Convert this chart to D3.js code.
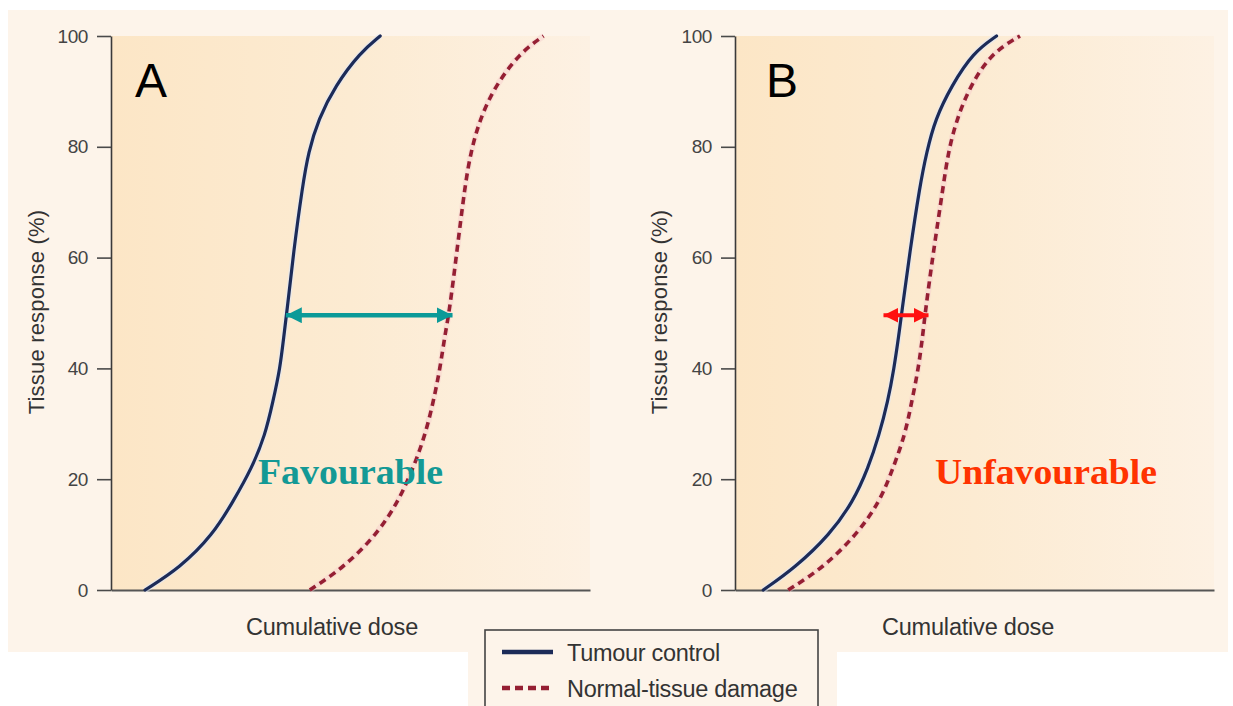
<!DOCTYPE html>
<html>
<head>
<meta charset="utf-8">
<script src="https://cdn.jsdelivr.net/npm/d3@7"></script>
<style>
  html, body { margin: 0; padding: 0; background: #ffffff; }
  svg { display: block; font-family: "Liberation Sans", Arial, Helvetica, sans-serif; }
</style>
</head>
<body>
<svg id="chart" width="1233" height="706"></svg>
<script>
// ---------------- DATA ----------------
// Tissue response levels (%) at which the curves were read
const responseLevels = [0, 4, 10, 16, 22, 28, 34, 40, 46, 50, 61, 73, 79, 85, 91, 97, 100];
// Cumulative dose (arbitrary 0-100 scale) reached at each response level
const tumourA = [7.1, 14.4, 21.3, 25.5, 29.4, 32.2, 33.8, 35.3, 36.1, 36.7, 38.1, 40.0, 41.2, 43.3, 46.8, 52.0, 56.2];
const normalA = [41.5, 48.5, 55.5, 60.0, 63.1, 65.6, 67.3, 68.7, 69.7, 70.6, 72.2, 73.9, 75.1, 77.0, 80.2, 85.4, 90.3];
const tumourB = [5.9, 12.5, 19.8, 24.7, 27.8, 30.1, 31.9, 33.2, 34.2, 34.8, 36.5, 38.6, 40.0, 41.8, 45.2, 49.7, 54.6];
const normalB = [11.1, 18.4, 25.4, 30.3, 33.0, 35.5, 36.9, 38.3, 39.2, 39.7, 41.4, 43.5, 44.5, 46.3, 49.1, 53.6, 59.5];
const yTicks = [0, 20, 40, 60, 80, 100];
const panelLetters = ["A", "B"];
const panelVerdicts = ["Favourable", "Unfavourable"];
// Therapeutic window arrows: [start dose, end dose] at the arrow response level
const arrowA = [36.5, 71.3];
const arrowB = [31.0, 40.4];
const arrowLevel = 49.6;
const seriesNames = ["Tumour control", "Normal-tissue damage"];
const yTitle = "Tissue response (%)";
const xTitle = "Cumulative dose";

// ---------------- LAYOUT ----------------
const svg = d3.select("#chart");
const C = {
  bg: "#fdf4ea",
  navy: "#1c2b58",
  maroon: "#951f33",
  teal: "#0b9a98",
  tealText: "#139995",
  red: "#ff1010",
  redText: "#ff3300",
  axis: "#3a3a3a",
  tick: "#4a4a4a"
};
const SANS = "'Liberation Sans', Arial, Helvetica, sans-serif";
const SERIF = "'Liberation Serif', 'Times New Roman', Times, serif";

const defs = svg.append("defs");
const grad = defs.append("linearGradient").attr("id", "plotGrad")
  .attr("x1", "0%").attr("x2", "100%").attr("y1", "0%").attr("y2", "0%");
grad.append("stop").attr("offset", "0%").attr("stop-color", "#fce6c6");
grad.append("stop").attr("offset", "50%").attr("stop-color", "#fcebd2");
grad.append("stop").attr("offset", "100%").attr("stop-color", "#fdf1e3");

function arrowMarker(id, color, len, wid) {
  const m = defs.append("marker").attr("id", id)
    .attr("viewBox", `0 0 ${len} ${wid}`)
    .attr("refX", len).attr("refY", wid / 2)
    .attr("markerWidth", len).attr("markerHeight", wid)
    .attr("markerUnits", "userSpaceOnUse")
    .attr("orient", "auto-start-reverse");
  m.append("path").attr("d", `M0,0 L${len},${wid / 2} L0,${wid} Z`).attr("fill", color);
}
arrowMarker("arrowTeal", C.teal, 16, 16);
arrowMarker("arrowRed", C.red, 15, 15);

// Backgrounds
svg.append("rect").attr("x", 8).attr("y", 10).attr("width", 1220).attr("height", 642).attr("fill", C.bg);
svg.append("rect").attr("x", 468).attr("y", 651).attr("width", 369).attr("height", 60).attr("fill", C.bg);

const y = d3.scaleLinear().domain([0, 100]).range([590, 36]);

const panels = [
  { letter: panelLetters[0], x0: 111, x1: 590, tumour: tumourA, normal: normalA, arrow: arrowA,
    arrowColor: C.teal, marker: "arrowTeal", arrowW: 4.5,
    verdict: panelVerdicts[0], verdictColor: C.tealText, verdictX: 258, verdictLen: 185,
    letterX: 135, yTitleX: 44, xTitleX: 332 },
  { letter: panelLetters[1], x0: 735, x1: 1214, tumour: tumourB, normal: normalB, arrow: arrowB,
    arrowColor: C.red, marker: "arrowRed", arrowW: 4,
    verdict: panelVerdicts[1], verdictColor: C.redText, verdictX: 935, verdictLen: 222,
    letterX: 766, yTitleX: 667, xTitleX: 968 }
];

panels.forEach(p => {
  const x = d3.scaleLinear().domain([0, 100]).range([p.x0, p.x1]);
  const g = svg.append("g");

  // plot area
  g.append("rect").attr("x", p.x0).attr("y", y(100)).attr("width", p.x1 - p.x0)
    .attr("height", y(0) - y(100)).attr("fill", "url(#plotGrad)");

  // x axis (no ticks)
  const xa = g.append("g").attr("transform", `translate(0,${y(0)})`)
    .call(d3.axisBottom(x).tickValues([]).tickSizeOuter(0));
  xa.select(".domain").attr("stroke", "#555").attr("stroke-width", 2);

  // y axis
  const ya = g.append("g").attr("transform", `translate(${p.x0},0)`)
    .call(d3.axisLeft(y).tickValues(yTicks).tickSize(14).tickPadding(9).tickSizeOuter(0));
  ya.attr("font-family", null).attr("font-size", null);
  ya.select(".domain").attr("stroke", C.axis).attr("stroke-width", 1.6);
  ya.selectAll(".tick line").attr("stroke", C.tick).attr("stroke-width", 1.6);
  ya.selectAll(".tick text").attr("fill", "#444")
    .style("font-size", "19px").style("font-family", SANS).style("letter-spacing", "-0.4px");

  // axis titles
  g.append("text").attr("transform", `translate(${p.yTitleX},${y(50) - 1}) rotate(-90)`)
    .attr("text-anchor", "middle").style("font-size", "22px").style("font-family", SANS)
    .attr("fill", "#333").style("letter-spacing", "0.2px").text(yTitle);
  g.append("text").attr("x", p.xTitleX).attr("y", 635)
    .attr("text-anchor", "middle").style("font-size", "23.5px").style("font-family", SANS)
    .attr("fill", "#333").style("letter-spacing", "-0.2px").text(xTitle);

  // panel letter
  g.append("text").attr("x", p.letterX).attr("y", 97).style("font-size", "48px")
    .style("font-family", SANS).attr("fill", "#000").text(p.letter);

  const line = d3.line().x(d => x(d[0])).y(d => y(d[1])).curve(d3.curveBasis);

  // normal tissue (dashed)
  const nData = p.normal.map((d, i) => [d, responseLevels[i]]);
  g.append("path").datum(nData).attr("d", line).attr("fill", "none")
    .attr("stroke", "#f6cfcf").attr("stroke-width", 6).attr("stroke-opacity", 0.45);
  g.append("path").datum(nData).attr("d", line).attr("fill", "none")
    .attr("stroke", C.maroon).attr("stroke-width", 3.6).attr("stroke-dasharray", "7,5");

  // tumour control (solid)
  const tData = p.tumour.map((d, i) => [d, responseLevels[i]]);
  g.append("path").datum(tData).attr("d", line).attr("fill", "none")
    .attr("stroke", "#dfe8f7").attr("stroke-width", 6).attr("stroke-opacity", 0.6);
  g.append("path").datum(tData).attr("d", line).attr("fill", "none")
    .attr("stroke", C.navy).attr("stroke-width", 3.2).attr("stroke-linecap", "round");

  // window arrow
  g.append("line").attr("x1", x(p.arrow[0])).attr("x2", x(p.arrow[1]))
    .attr("y1", y(arrowLevel)).attr("y2", y(arrowLevel))
    .attr("stroke", p.arrowColor).attr("stroke-width", p.arrowW)
    .attr("marker-start", `url(#${p.marker})`).attr("marker-end", `url(#${p.marker})`);

  // verdict label
  g.append("text").attr("x", p.verdictX).attr("y", 484)
    .style("font-family", SERIF).style("font-weight", "bold").style("font-size", "36px")
    .attr("fill", p.verdictColor)
    .attr("textLength", p.verdictLen).attr("lengthAdjust", "spacingAndGlyphs")
    .text(p.verdict);
});

// ---------------- LEGEND ----------------
const lg = svg.append("g");
lg.append("rect").attr("x", 485).attr("y", 630).attr("width", 333).attr("height", 90)
  .attr("fill", C.bg).attr("stroke", "#444").attr("stroke-width", 1.6);
const legendRows = [
  { name: seriesNames[0], color: C.navy, dash: null, y: 652 },
  { name: seriesNames[1], color: C.maroon, dash: "8,5", y: 688 }
];
legendRows.forEach(r => {
  lg.append("line").attr("x1", 502).attr("x2", 553).attr("y1", r.y).attr("y2", r.y)
    .attr("stroke", r.color).attr("stroke-width", 4.5)
    .attr("stroke-dasharray", r.dash);
  lg.append("text").attr("x", 567).attr("y", r.y + 9).style("font-size", "23.5px")
    .style("font-family", SANS).attr("fill", "#333").style("letter-spacing", "-0.3px").text(r.name);
});
</script>
</body>
</html>
